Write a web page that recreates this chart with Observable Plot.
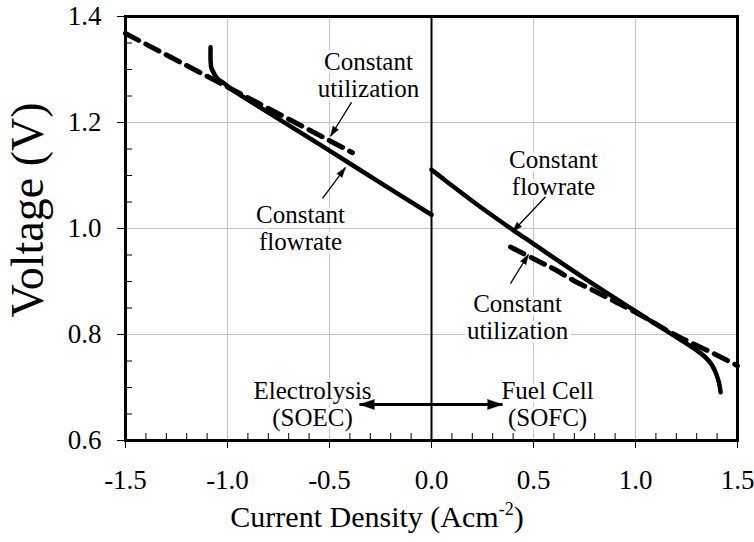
<!DOCTYPE html>
<html>
<head>
<meta charset="utf-8">
<script src="https://cdn.jsdelivr.net/npm/d3@7"></script>
<script src="https://cdn.jsdelivr.net/npm/@observablehq/plot@0.6"></script>
<style>
  html, body { margin: 0; padding: 0; background: #fff; }
  svg { display: block; }
</style>
</head>
<body>
<div id="chart"></div>
<script>
// ---------------- data ----------------
// Constant flowrate, electrolysis side (SOEC)
const flowSoecX = [-1.083, -1.083, -1.079, -1.067, -1.050, -1.020, -0.985, -0.75, -0.5, -0.25, 0];
const flowSoecY = [1.342, 1.318, 1.303, 1.293, 1.283, 1.275, 1.264, 1.207, 1.147, 1.086, 1.026];
// Constant flowrate, fuel cell side (SOFC)
const flowSofcX = [0, 0.05, 0.1, 0.2, 0.3, 0.4, 0.5, 0.75, 1.0, 1.2, 1.3, 1.34, 1.37, 1.39, 1.405, 1.413, 1.417];
const flowSofcY = [1.111, 1.096, 1.081, 1.052, 1.024, 0.997, 0.971, 0.906, 0.844, 0.795, 0.770, 0.758, 0.745, 0.731, 0.715, 0.702, 0.691];
// Constant utilization, electrolysis side (SOEC)
const utilSoecX = [-1.5, -1.0, -0.387];
const utilSoecY = [1.368, 1.267, 1.143];
// Constant utilization, fuel cell side (SOFC)
const utilSofcX = [0.387, 0.515, 0.603, 0.696, 0.794, 0.89, 1.0, 1.172, 1.27, 1.4, 1.5];
const utilSofcY = [0.965, 0.940, 0.923, 0.902, 0.883, 0.864, 0.842, 0.804, 0.785, 0.761, 0.741];

// axis ticks
const xMajor = [-1.5, -1.0, -0.5, 0.0, 0.5, 1.0, 1.5];
const xMinor = [-1.4, -1.3, -1.2, -1.1, -0.9, -0.8, -0.7, -0.6, -0.4, -0.3, -0.2, -0.1,
                0.1, 0.2, 0.3, 0.4, 0.6, 0.7, 0.8, 0.9, 1.1, 1.2, 1.3, 1.4];
const yMajor = [0.6, 0.8, 1.0, 1.2, 1.4];
const yMinor = [0.65, 0.7, 0.75, 0.85, 0.9, 0.95, 1.05, 1.1, 1.15, 1.25, 1.3, 1.35];
const xGrid = [-1.0, -0.5, 0.5, 1.0];
const yGrid = [0.8, 1.0, 1.2];

// annotations
const noteText = ["Constant\nutilization", "Constant\nflowrate", "Constant\nflowrate", "Constant\nutilization",
                  "Electrolysis\n(SOEC)", "Fuel Cell\n(SOFC)"];
const noteX = [-0.309, -0.642, 0.598, 0.422, -0.583, 0.569];
const noteY = [1.290, 1.002, 1.105, 0.833, 0.670, 0.669];
// pointer arrows (from text to curve)
const ptrX1 = [-0.392, -0.534, 0.559, 0.387];
const ptrY1 = [1.238, 1.057, 1.060, 0.896];
const ptrX2 = [-0.495, -0.422, 0.397, 0.475];
const ptrY2 = [1.174, 1.115, 0.994, 0.951];
// regime double arrow
const regimeX = [-0.353, 0.348];
const regimeY = [0.668, 0.668];

const xTitle = "Current Density (Acm";
const xTitleSup = "-2";
const yTitle = "Voltage (V)";

// ---------------- build ----------------
const W = 754, H = 542;
const mL = 125, mR = 17, mT = 16, mB = 102;
const xDomain = [-1.5, 1.5], yDomain = [0.6, 1.4];
const FONT = "'Liberation Serif', 'Times New Roman', Times, serif";

const rows = (xs, ys, group) => xs.map((x, i) => ({x, y: ys[i], group}));
const solidRows = [...rows(flowSoecX, flowSoecY, "flow-soec"), ...rows(flowSofcX, flowSofcY, "flow-sofc")];
const dashRows = [...rows(utilSoecX, utilSoecY, "util-soec"), ...rows(utilSofcX, utilSofcY, "util-sofc")];
const notes = noteText.map((t, i) => ({text: t, x: noteX[i], y: noteY[i]}));
const ptrs = ptrX1.map((x1, i) => ({x1, y1: ptrY1[i], x2: ptrX2[i], y2: ptrY2[i]}));

const sx = Plot.scale({x: {domain: xDomain, range: [mL, W - mR]}});
const sy = Plot.scale({y: {domain: yDomain, range: [H - mB, mT]}});
const angle = (x1, y1, x2, y2) =>
  Math.atan2(sx.apply(x2) - sx.apply(x1), -(sy.apply(y2) - sy.apply(y1))) * 180 / Math.PI;

const ptrHeads = ptrs.map(d => ({x: d.x2, y: d.y2, rotate: angle(d.x1, d.y1, d.x2, d.y2)}));
const regimeHeads = [
  {x: regimeX[0], y: regimeY[0], rotate: angle(regimeX[1], regimeY[1], regimeX[0], regimeY[0])},
  {x: regimeX[1], y: regimeY[1], rotate: angle(regimeX[0], regimeY[0], regimeX[1], regimeY[1])}
];

const fmt = d => d.toFixed(1);

const plot = Plot.plot({
  width: W, height: H,
  marginLeft: mL, marginRight: mR, marginTop: mT, marginBottom: mB,
  style: {fontFamily: FONT, color: "black", background: "white"},
  x: {domain: xDomain},
  y: {domain: yDomain},
  marks: [
    Plot.ruleX(xGrid, {stroke: "#c4c4c4", strokeWidth: 1}),
    Plot.ruleY(yGrid, {stroke: "#c4c4c4", strokeWidth: 1}),
    Plot.ruleX([0], {stroke: "black", strokeWidth: 2}),
    Plot.line(dashRows, {x: "x", y: "y", z: "group", stroke: "black", strokeWidth: 5,
      strokeDasharray: "15,8", curve: "catmull-rom"}),
    Plot.line(solidRows, {x: "x", y: "y", z: "group", stroke: "black", strokeWidth: 4.5,
      strokeLinecap: "round", strokeLinejoin: "round", curve: "catmull-rom"}),
    Plot.text(notes, {x: "x", y: "y", text: "text", fontSize: 25, lineHeight: 1.08,
      fill: "black", stroke: "white", strokeWidth: 7}),
    Plot.link(ptrs, {x1: "x1", y1: "y1", x2: "x2", y2: "y2", stroke: "black", strokeWidth: 1.3}),
    Plot.vector(ptrHeads, {x: "x", y: "y", rotate: "rotate", length: 10, r: 3.2, shape: "spike",
      anchor: "end", fill: "black", stroke: "black", strokeWidth: 0.5}),
    Plot.link([{x1: regimeX[0], y1: regimeY[0], x2: regimeX[1], y2: regimeY[1]}],
      {x1: "x1", y1: "y1", x2: "x2", y2: "y2", stroke: "black", strokeWidth: 3}),
    Plot.vector(regimeHeads, {x: "x", y: "y", rotate: "rotate", length: 15, r: 5, shape: "spike",
      anchor: "end", fill: "black", stroke: "black", strokeWidth: 0.5}),
    Plot.axisX({ticks: xMajor, tickSize: 8, tickPadding: 21, tickFormat: fmt, fontSize: 27, label: null}),
    Plot.axisX({ticks: xMinor, tickSize: -7, fill: "none", label: null}),
    Plot.axisY({ticks: yMajor, tickSize: 8, tickPadding: 16, tickFormat: fmt, fontSize: 27, label: null}),
    Plot.axisY({ticks: yMinor, tickSize: -7, fill: "none", label: null}),
    Plot.frame({stroke: "black", strokeWidth: 3})
  ]
});

// axis titles (real text)
const svg = d3.select(plot);
const xt = svg.append("text")
  .attr("x", W / 2).attr("y", H - 15)
  .attr("text-anchor", "middle")
  .attr("font-family", FONT).attr("font-size", 30).attr("fill", "black");
xt.append("tspan").text(xTitle);
xt.append("tspan").attr("font-size", 18).attr("dy", -12).text(xTitleSup);
xt.append("tspan").attr("dy", 12).text(")");

svg.append("text")
  .attr("transform", `translate(${mL - 82},${(mT + H - mB) / 2 - 18}) rotate(-90)`)
  .attr("text-anchor", "middle")
  .attr("font-family", FONT).attr("font-size", 46).attr("fill", "black")
  .text(yTitle);

document.getElementById("chart").appendChild(plot);
</script>
</body>
</html>
